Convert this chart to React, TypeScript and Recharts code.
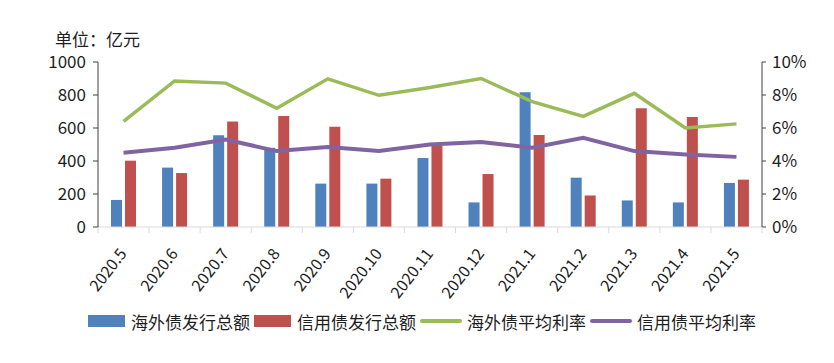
import React from "react";
import {
  ComposedChart,
  Bar,
  Line,
  XAxis,
  YAxis,
  Legend,
  Label,
} from "recharts";

const categories = [
  "2020.5", "2020.6", "2020.7", "2020.8", "2020.9", "2020.10", "2020.11",
  "2020.12", "2021.1", "2021.2", "2021.3", "2021.4", "2021.5",
];
const overseasIssue = [164, 360, 556, 480, 263, 263, 418, 149, 817, 299, 161, 149, 267];
const creditIssue = [402, 327, 640, 672, 608, 293, 492, 321, 558, 191, 719, 667, 287];
const overseasRate = [6.4, 8.85, 8.72, 7.2, 8.98, 7.98, 8.45, 9.0, 7.6, 6.7, 8.1, 6.0, 6.25];
const creditRate = [4.5, 4.8, 5.3, 4.6, 4.85, 4.6, 5.0, 5.15, 4.8, 5.4, 4.6, 4.4, 4.25];
const leftTicks = [0, 200, 400, 600, 800, 1000];
const rightTicks = [0, 2, 4, 6, 8, 10];
const unitLabel = "单位：亿元";

const seriesNames = {
  overseasIssue: "海外债发行总额",
  creditIssue: "信用债发行总额",
  overseasRate: "海外债平均利率",
  creditRate: "信用债平均利率",
};

const data = categories.map((c, i) => ({
  name: c,
  overseasIssue: overseasIssue[i],
  creditIssue: creditIssue[i],
  overseasRate: overseasRate[i],
  creditRate: creditRate[i],
}));

const FONT = '"Noto Sans CJK SC", "Noto Sans", sans-serif';
const TEXT = "#1e1e1e";
const BLUE = "#4f81bd";
const RED = "#c0504d";
const GREEN = "#9bbb59";
const PURPLE = "#8064a2";

const W = 818;
const H = 345;
const PLOT_W = 664;

const XTick = (props: any) => {
  const { x, y, payload, index } = props;
  const band = PLOT_W / categories.length;
  const px = x + 4;
  const py = y + 27;
  return (
    <g>
      <line x1={x - band / 2} y1={y} x2={x - band / 2} y2={y + 6} stroke="#d9d9d9" />
      {index === categories.length - 1 && (
        <line x1={x + band / 2} y1={y} x2={x + band / 2} y2={y + 6} stroke="#d9d9d9" />
      )}
      <text
        x={px}
        y={py}
        transform={`rotate(-52, ${px}, ${py})`}
        textAnchor="end"
        fontSize={16}
        fontFamily={FONT}
        fill={TEXT}
      >
        {payload.value}
      </text>
    </g>
  );
};

const legendItems = [
  { key: "overseasIssue", color: BLUE, type: "rect" },
  { key: "creditIssue", color: RED, type: "rect" },
  { key: "overseasRate", color: GREEN, type: "line" },
  { key: "creditRate", color: PURPLE, type: "line" },
];

const CustomLegend = () => (
  <div
    style={{
      height: 30,
      display: "flex",
      alignItems: "center",
      paddingLeft: 40,
      fontFamily: FONT,
      fontSize: 17,
      color: TEXT,
      whiteSpace: "nowrap",
    }}
  >
    {legendItems.map((it) => (
      <div key={it.key} style={{ display: "flex", alignItems: "center", marginRight: 4 }}>
        {it.type === "rect" ? (
          <div style={{ width: 37, height: 12, background: it.color, marginRight: 6 }} />
        ) : (
          <div style={{ width: 42, height: 4, background: it.color, borderRadius: 2, marginRight: 5 }} />
        )}
        <span>{(seriesNames as any)[it.key]}</span>
      </div>
    ))}
  </div>
);

const TitleLabel = (props: any) => {
  const { viewBox } = props;
  return (
    <text
      x={viewBox.x + 7}
      y={viewBox.y - 16}
      fontSize={17}
      fontFamily={FONT}
      fill={TEXT}
    >
      {unitLabel}
    </text>
  );
};

export default function App() {
  return (
    <ComposedChart
      width={W}
      height={H}
      data={data}
      margin={{ top: 54, right: 14, left: 40, bottom: 17 }}
      barSize={11}
      barGap={3}
      barCategoryGap="24%"
    >
      <XAxis
        dataKey="name"
        xAxisId="x"
        interval={0}
        tickLine={false}
        tickSize={0}
        tickMargin={0}
        height={79}
        stroke="#d9d9d9"
        tick={<XTick />}
      />
      <YAxis
        yAxisId="left"
        width={50}
        domain={[0, 1000]}
        ticks={leftTicks}
        tickSize={5}
        tickMargin={7}
        stroke="#404040"
        tick={{ fontSize: 17, fontFamily: FONT, fill: TEXT }}
      >
        <Label content={<TitleLabel />} />
      </YAxis>
      <YAxis
        yAxisId="right"
        orientation="right"
        width={50}
        domain={[0, 10]}
        ticks={rightTicks}
        tickFormatter={(v: number) => `${v}%`}
        tickSize={4}
        tickMargin={6}
        stroke="#404040"
        tick={{ fontSize: 17, fontFamily: FONT, fill: TEXT, textAnchor: "start" }}
      />
      <Bar xAxisId="x" yAxisId="left" dataKey="overseasIssue" name={seriesNames.overseasIssue} fill={BLUE} isAnimationActive={false} />
      <Bar xAxisId="x" yAxisId="left" dataKey="creditIssue" name={seriesNames.creditIssue} fill={RED} isAnimationActive={false} />
      <Line xAxisId="x" yAxisId="right" dataKey="overseasRate" name={seriesNames.overseasRate} stroke={GREEN} strokeWidth={3.5} dot={false} isAnimationActive={false} />
      <Line xAxisId="x" yAxisId="right" dataKey="creditRate" name={seriesNames.creditRate} stroke={PURPLE} strokeWidth={4} dot={false} isAnimationActive={false} />
      <Legend verticalAlign="bottom" content={<CustomLegend />} />
    </ComposedChart>
  );
}
